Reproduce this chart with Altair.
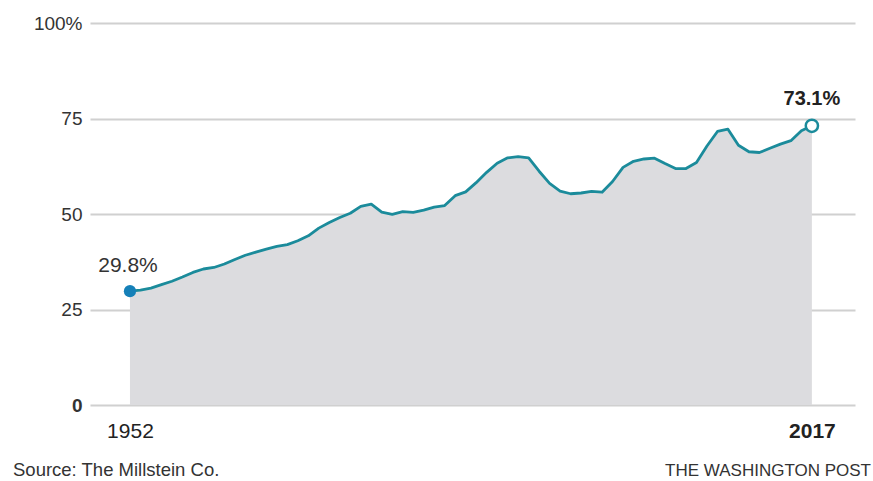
import altair as alt
import pandas as pd

years = list(range(1952, 2018))
share = [
    29.8, 30.1, 30.6, 31.5, 32.4, 33.5, 34.7, 35.6, 36.0, 36.9,
    38.1, 39.2, 40.0, 40.8, 41.5, 42.0, 43.0, 44.3, 46.3, 47.8,
    49.1, 50.2, 52.0, 52.6, 50.5, 49.9, 50.6, 50.4, 51.0, 51.8,
    52.2, 54.8, 55.8, 58.2, 60.9, 63.3, 64.7, 65.0, 64.7, 61.2,
    58.0, 56.0, 55.3, 55.5, 55.9, 55.7, 58.5, 62.2, 63.8, 64.4,
    64.6, 63.2, 61.9, 61.9, 63.5, 67.8, 71.6, 72.2, 68.0, 66.3,
    66.1, 67.2, 68.3, 69.2, 71.8, 73.1,
]
y_ticks = [0, 25, 50, 75, 100]
x_ticks = [1952, 2017]
start_label = "29.8%"
end_label = "73.1%"
source_text = "Source: The Millstein Co."
credit_text = "THE WASHINGTON POST"

FONT = "Liberation Sans"
W, H = 765, 382
TEAL = "#1b8b9b"

df = pd.DataFrame({"year": years, "share": share})
ends = pd.DataFrame({
    "year": [years[0], years[-1]],
    "share": [share[0], share[-1]],
    "label": [start_label, end_label],
    "kind": ["start", "end"],
})

xs = alt.Scale(domain=[1948.19, 2021.11], nice=False, zero=False)
ys = alt.Scale(domain=[0, 100], nice=False)

x_enc = alt.X(
    "year:Q", scale=xs, title=None,
    axis=alt.Axis(
        values=x_ticks, format="d", grid=False, ticks=False, domain=False,
        labelPadding=15, labelFontSize=21, labelFont=FONT, labelColor="#222",
        labelFontWeight={"condition": {"test": "datum.value == 2017", "value": "bold"}, "value": "normal"},
    ),
)
y_enc = alt.Y(
    "share:Q", scale=ys, title=None,
    axis=alt.Axis(
        values=y_ticks, grid=True, gridColor="#d0d0d0", gridWidth=2,
        ticks=False, domain=False, labelPadding=8, labelFontSize=19,
        labelFont=FONT, labelColor="#333",
        labelExpr="datum.value == 100 ? '100%' : datum.label",
        labelFontWeight={"condition": {"test": "datum.value == 0", "value": "bold"}, "value": "normal"},
    ),
)

x_plain = alt.X("year:Q", scale=xs)
y_plain = alt.Y("share:Q", scale=ys)

base = alt.Chart(df)
area = base.mark_area(color="#dcdcdf", opacity=1).encode(x=x_enc, y=y_enc)
line = base.mark_line(color=TEAL, strokeWidth=2.8, strokeJoin="round").encode(x=x_plain, y=y_plain)

pt_start = alt.Chart(ends).transform_filter("datum.kind == 'start'").mark_point(
    filled=True, color="#1580b8", size=150, opacity=1
).encode(x=x_plain, y=y_plain)
pt_end = alt.Chart(ends).transform_filter("datum.kind == 'end'").mark_point(
    filled=True, fill="white", stroke=TEAL, strokeWidth=2.5, size=150, opacity=1
).encode(x=x_plain, y=y_plain)

lbl_start = alt.Chart(ends).transform_filter("datum.kind == 'start'").mark_text(
    font=FONT, fontSize=21, color="#333", align="center", baseline="alphabetic", dy=-19, dx=-2
).encode(x=x_plain, y=y_plain, text="label:N")
lbl_end = alt.Chart(ends).transform_filter("datum.kind == 'end'").mark_text(
    font=FONT, fontSize=20, fontWeight="bold", color="#222", align="center", baseline="alphabetic", dy=-21
).encode(x=x_plain, y=y_plain, text="label:N")

src = alt.Chart(pd.DataFrame({"t": [source_text]})).mark_text(
    font=FONT, fontSize=18.5, color="#333", align="left", baseline="alphabetic"
).encode(x=alt.value(-77), y=alt.value(453), text="t:N")
cred = alt.Chart(pd.DataFrame({"t": [credit_text]})).mark_text(
    font=FONT, fontSize=17, color="#333", align="right", baseline="alphabetic"
).encode(x=alt.value(781), y=alt.value(453), text="t:N")

chart = alt.layer(area, line, pt_start, pt_end, lbl_start, lbl_end, src, cred).properties(
    width=W, height=H,
    autosize=alt.AutoSizeParams(type="none"),
    padding={"left": 90, "top": 23, "right": 18, "bottom": 76},
).configure(background="white").configure_view(stroke=None)

chart.save("out.html", embed_options={"renderer": "svg", "actions": False})
